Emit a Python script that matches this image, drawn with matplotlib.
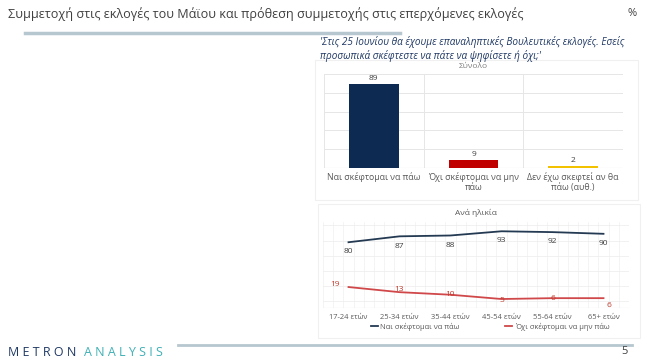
import matplotlib.pyplot as plt
from matplotlib.patches import Rectangle
from matplotlib.lines import Line2D
import numpy as np

W, H = 650, 363

title = "Συμμετοχή στις εκλογές του Μάϊου και πρόθεση συμμετοχής στις επερχόμενες εκλογές"
question = ("'Στις 25 Ιουνίου θα έχουμε επαναληπτικές Βουλευτικές εκλογές. Εσείς\n"
            "προσωπικά σκέφτεστε να πάτε να ψηφίσετε ή όχι;'")

bar_labels = ["Ναι σκέφτομαι να πάω", "Όχι σκέφτομαι να μην\nπάω", "Δεν έχω σκεφτεί αν θα\nπάω (αυθ.)"]
bar_values = [89, 9, 2]
bar_colors = ["#0d2b52", "#c00000", "#f2c200"]

age_groups = ["17-24 ετών", "25-34 ετών", "35-44 ετών", "45-54 ετών", "55-64 ετών", "65+ ετών"]
yes_values = [80, 87, 88, 93, 92, 90]
no_values = [19, 13, 10, 5, 6, 6]
series_names = ["Ναι σκέφτομαι να πάω", "Όχι σκέφτομαι να μην πάω"]

plt.rcParams["font.family"] = ["Open Sans", "DejaVu Sans"]


def rect(x0, y0, x1, y1):
    return [x0 / W, 1 - y1 / H, (x1 - x0) / W, (y1 - y0) / H]


fig = plt.figure(figsize=(W / 100, H / 100), dpi=100)

# header / footer decoration
fig.text(8 / W, 1 - 14 / H, title, fontsize=9.1, color="#404040", va="center", ha="left")
fig.text(632 / W, 1 - 13 / H, "%", fontsize=8, color="#404040", va="center", ha="center")
fig.add_artist(Line2D([25 / W, 400 / W], [1 - 33 / H] * 2, color="#b7c7cf", lw=2.5))
fig.text(320 / W, 1 - 49 / H, question, fontsize=7.2, style="italic", color="#1f3864",
         va="center", ha="left", linespacing=1.2)
fig.add_artist(Line2D([178 / W, 632 / W], [1 - 345 / H] * 2, color="#b7c7cf", lw=2))
fig.text(8 / W, 1 - 352 / H, "M E T R O N", fontsize=9, color="#1f3864", va="center", ha="left")
fig.text(84 / W, 1 - 352 / H, "A N A L Y S I S", fontsize=9, color="#3fb0b5", va="center", ha="left")
fig.text(625 / W, 1 - 352 / H, "5", fontsize=8, color="#404040", va="center", ha="center")

# panel frames
for x0, y0, x1, y1 in [(315, 60, 638, 200), (318, 204, 640, 338)]:
    fig.add_artist(Rectangle((x0 / W, 1 - y1 / H), (x1 - x0) / W, (y1 - y0) / H,
                             transform=fig.transFigure, fill=False, ec="#f0f0f0", lw=0.8))

# total bar chart
ax = fig.add_axes(rect(324, 74, 623, 168))
x = np.arange(len(bar_values))
for yv in range(20, 101, 20):
    ax.axhline(yv, color="#e6e6e6", lw=0.7, zorder=0)
for xv in [-0.5, 0.5, 1.5, 2.5]:
    ax.axvline(xv, color="#e6e6e6", lw=0.7, zorder=0)
ax.axhline(0, color="#d0d0d0", lw=0.8, zorder=1)
ax.bar(x, bar_values, width=0.5, color=bar_colors, zorder=2)
for xi, v in zip(x, bar_values):
    ax.text(xi, v + 2, str(v), ha="center", va="bottom", fontsize=6, color="#404040")
ax.set_xlim(-0.5, 2.5)
ax.set_ylim(0, 100)
ax.set_yticks([])
ax.set_xticks(x)
ax.set_xticklabels(bar_labels, fontsize=6.3, color="#595959", linespacing=1.1)
ax.tick_params(axis="x", length=0, pad=3)
for s in ax.spines.values():
    s.set_visible(False)
ax.set_title("Σύνολο", fontsize=6, color="#808080", pad=4)

# by age line chart
ax2 = fig.add_axes(rect(323, 222, 629, 308))
xa = np.arange(len(age_groups))
for xv in np.arange(-0.5, 5.51, 0.2):
    ax2.axvline(xv, color="#f0f0f0", lw=0.5, zorder=0)
for yv in range(10, 104, 18):
    ax2.axhline(yv, color="#ececec", lw=0.5, zorder=0)
ax2.plot(xa, yes_values, color="#243a52", lw=1.3, zorder=3)
ax2.set_xlim(-0.5, 5.5)
ax2.set_ylim(2, 104)
ax2.set_yticks([])
ax2.set_xticks(xa)
ax2.set_xticklabels(age_groups, fontsize=5.4, color="#595959")
ax2.tick_params(axis="x", length=0, pad=4)
for s in ax2.spines.values():
    s.set_visible(False)
ax2.axhline(2, color="#d9d9d9", lw=0.8)
for xi, v in zip(xa, yes_values):
    ax2.annotate(str(v), (xi, v), xytext=(0, -7), textcoords="offset points",
                 ha="center", va="center", fontsize=6, color="#404040")

ax3 = ax2.twinx()
ax3.plot(xa, no_values, color="#d0484a", lw=1.3, zorder=3)
ax3.set_ylim(-5.5, 95)
ax3.set_yticks([])
for s in ax3.spines.values():
    s.set_visible(False)
offsets = [(-10, 2), (0, 2), (0, 0), (0, -1), (0, 0), (4, -5)]
for xi, v, off in zip(xa, no_values, offsets):
    ax3.annotate(str(v), (xi, v), xytext=off, textcoords="offset points",
                 ha="center", va="center", fontsize=6, color="#c0392b")

ax2.set_title("Ανά ηλικία", fontsize=6, color="#595959", pad=5)

handles = [Line2D([0], [0], color="#243a52", lw=1.3), Line2D([0], [0], color="#d0484a", lw=1.3)]
fig.legend(handles, series_names, loc="center", bbox_to_anchor=(490 / W, 1 - 327 / H),
           ncol=2, frameon=False, fontsize=5.4, handlelength=1.0, handletextpad=0.3,
           columnspacing=6, labelcolor="#595959")

fig.savefig("out.png", dpi=100)
